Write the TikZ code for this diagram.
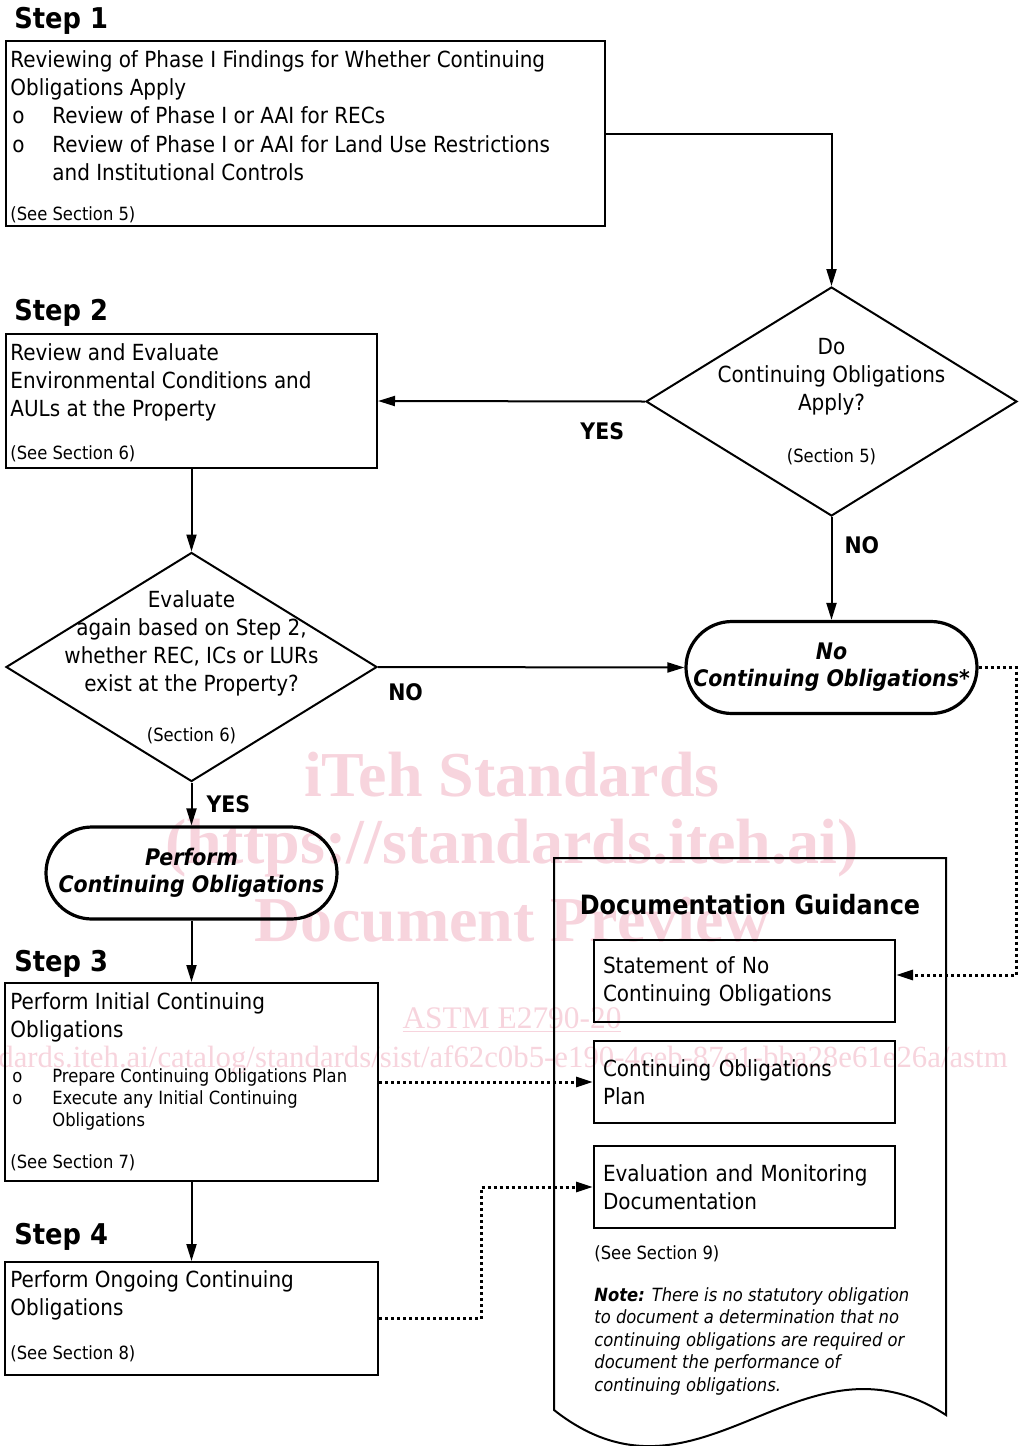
\documentclass[tikz,border=0pt]{standalone}
\usepackage{fontspec}
\setmainfont{DejaVu Sans Condensed}[
  BoldFont={DejaVu Sans Condensed Bold},
  ItalicFont={DejaVu Sans Condensed Oblique},
  BoldItalicFont={DejaVu Sans Condensed Bold Oblique}]
\newfontfamily\wmfont{Liberation Serif}
\usetikzlibrary{shapes.geometric,shapes.misc,arrows.meta}
\definecolor{wmpink}{RGB}{247,212,221}
\newcommand{\bulo}{\makebox[21pt][l]{\hspace{1pt}o}}
\newcommand{\fst}{\rule{0pt}{10pt}}

\begin{document}
\begin{tikzpicture}[x=0.5pt,y=-0.5pt,
    >={Triangle[length=8.5pt,width=5pt]},
    every node/.style={inner sep=0pt},
    boxtxt/.style={font=\fontsize{11.1}{14.1}\selectfont, align=left},
    bullettxt/.style={font=\fontsize{9.1}{11}\selectfont, align=left},
    seetxt/.style={font=\fontsize{9.1}{10}\selectfont},
    notetxt/.style={font=\fontsize{9.1}{11.25}\selectfont\itshape, align=left},
    steplbl/.style={anchor=base west, font=\fontsize{14.3}{16}\selectfont\bfseries},
    stepbox/.style={draw, line width=1pt, rectangle},
    ask/.style={draw, line width=1pt, diamond, minimum width=185.5pt, minimum height=114.5pt},
    asktxt/.style={align=center, font=\fontsize{11.1}{14}\selectfont},
    stopper/.style={draw, line width=1.6pt, rounded rectangle, minimum width=145.5pt, minimum height=46pt, align=center, font=\fontsize{11.4}{13.5}\selectfont\bfseries\itshape},
    docbox/.style={draw, line width=1pt, minimum width=150.5pt, minimum height=41pt, text width=141.5pt, align=left, font=\fontsize{11.1}{14}\selectfont},
    yesno/.style={font=\fontsize{11.4}{12}\selectfont\bfseries},
    link/.style={->, line width=1pt},
    dotlink/.style={->, line width=1.5pt, dash pattern=on 1.5pt off 1.5pt},
    wm/.style={text=wmpink, font=\wmfont\bfseries\fontsize{32}{34}\selectfont}
  ]
\useasboundingbox (0,0) rectangle (1018,1446);

% watermark
\node[wm] (wm1) at (512,775) {iTeh Standards};
\node[wm] (wm2) at (512,848) {(https://standards.iteh.ai)};
\node[wm] (wm3) at (512,920) {Document Preview};
\node[text=wmpink, font=\wmfont\fontsize{15.7}{17}\selectfont] (wm4) at (512,1020) {\underline{ASTM E2790-20}};
\node[anchor=west, text=wmpink, font=\wmfont\fontsize{15.4}{17}\selectfont] (wm5) at (-2,1060) {dards.iteh.ai/catalog/standards/sist/af62c0b5-e190-4ceb-87e1-bba28e61e26a/astm};

% step 1
\node[steplbl] (lbl1) at (14,28) {Step 1};
\node[stepbox, minimum width=299.5pt, minimum height=92.5pt] (s1) at (305.5,133.5) {};
\node[boxtxt, anchor=north west] (t1) at (10,47) {\fst Reviewing of Phase I Findings for Whether Continuing\\Obligations Apply\\\bulo Review of Phase I or AAI for RECs\\\bulo Review of Phase I or AAI for Land Use Restrictions\\\hspace*{21pt}and Institutional Controls};
\node[seetxt, anchor=base west] (n1) at (10,220) {(See Section 5)};

% step 2
\node[steplbl] (lbl2) at (14,320) {Step 2};
\node[stepbox, minimum width=185.5pt, minimum height=67pt] (s2) at (191.5,401) {};
\node[boxtxt, anchor=north west] (t2) at (10,340) {\fst Review and Evaluate\\Environmental Conditions and\\AULs at the Property};
\node[seetxt, anchor=base west] (n2) at (10,459) {(See Section 6)};

% decisions
\node[ask] (q1) at (831.5,401.5) {};
\node[asktxt] (q1t) at (q1.center) {Do\\Continuing Obligations\\Apply?\\[12pt]{\fontsize{9.1}{10}\selectfont (Section 5)}};
\node[stopper] (noco) at (831.5,667.5) {No\\Continuing Obligations*};
\node[ask] (q2) at (191.5,667) {};
\node[asktxt] (q2t) at (q2.center) {Evaluate\\again based on Step 2,\\whether REC, ICs or LURs\\exist at the Property?\\[11pt]{\fontsize{9.1}{10}\selectfont (Section 6)}};
\node[stopper] (perf) at (191.5,873) {Perform\\Continuing Obligations};

% step 3
\node[steplbl] (lbl3) at (14,971) {Step 3};
\node[stepbox, minimum width=186.5pt, minimum height=99pt] (s3) at (191.5,1082) {};
\node[boxtxt, anchor=north west] (t3) at (10,989) {\fst Perform Initial Continuing\\Obligations};
\node[bullettxt, anchor=north west] (b3) at (10,1062) {\fst\bulo Prepare Continuing Obligations Plan\\\bulo Execute any Initial Continuing\\\hspace*{21pt}Obligations};
\node[seetxt, anchor=base west] (n3) at (10,1168) {(See Section 7)};

% step 4
\node[steplbl] (lbl4) at (14,1244) {Step 4};
\node[stepbox, minimum width=186.5pt, minimum height=56.5pt] (s4) at (191.5,1318.5) {};
\node[boxtxt, anchor=north west] (t4) at (10,1267) {\fst Perform Ongoing Continuing\\Obligations};
\node[seetxt, anchor=base west] (n4) at (10,1359) {(See Section 8)};

% documentation guidance
\draw[line width=1pt] (554,858) -- (946,858) -- (946,1415) .. controls (800,1320) and (700,1525) .. (554,1410) -- cycle;
\node[anchor=base, font=\fontsize{13.3}{15}\selectfont\bfseries] (dtitle) at (750,914) {Documentation Guidance};
\node[docbox] (dA) at (744.5,981) {Statement of No\\Continuing Obligations};
\node[docbox] (dB) at (744.5,1082) {Continuing Obligations\\Plan};
\node[docbox] (dC) at (744.5,1187) {Evaluation and Monitoring\\Documentation};
\node[seetxt, anchor=base west] (n9) at (594,1259) {(See Section 9)};
\node[notetxt, anchor=north west] (note) at (594,1281) {\fst\textbf{Note:} There is no statutory obligation\\to document a determination that no\\continuing obligations are required or\\document the performance of\\continuing obligations.};

% connectors
\draw[link] (s1.east) -| (q1.north);
\draw[link] (q1.west) -- node[yesno, pos=0.16, below=10pt] (yes1) {YES} (s2.east);
\draw[link] (q1.south) -- node[yesno, pos=0.27, right=6pt] (no1) {NO} (noco.north);
\draw[link] (s2.south) -- (q2.north);
\draw[link] (q2.east) -- node[yesno, pos=0.09, below=8pt] (no2) {NO} (noco.west);
\draw[link] (q2.south) -- node[yesno, pos=0.5, right=7pt] (yes2) {YES} (perf.north);
\draw[link] (perf.south) -- (s3.north);
\draw[link] (s3.south) -- (s4.north);
\draw[dotlink] (noco.east) -- ++(38,0) |- ([yshift=3pt]dA.east);
\draw[dotlink] (s3.east |- dB.west) -- (dB.west);
\draw[dotlink] (s4.east) -- ++(102,0) |- (dC.west);

\end{tikzpicture}
\end{document}
